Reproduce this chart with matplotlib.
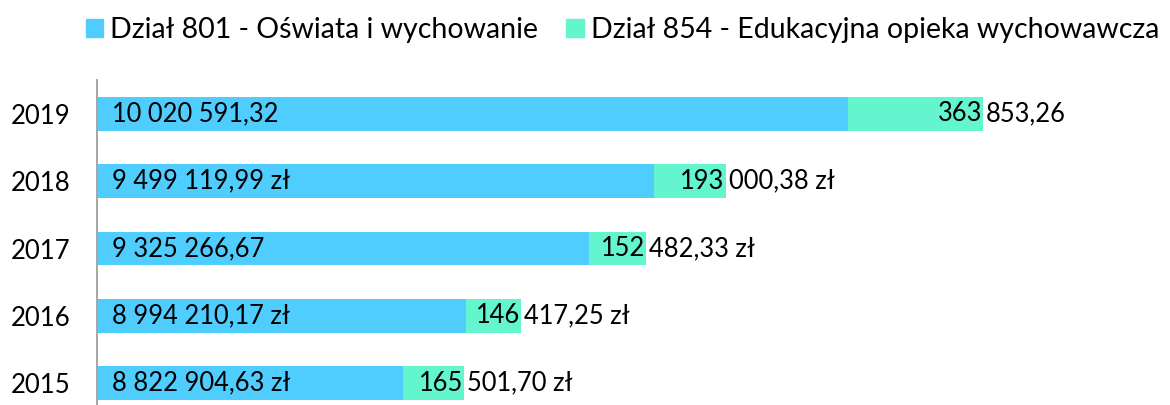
import matplotlib.pyplot as plt
from matplotlib.patches import Patch

plt.rcParams["font.family"] = ["Lato", "DejaVu Sans"]

years = ["2015", "2016", "2017", "2018", "2019"]
dzial_801 = [8822904.63, 8994210.17, 9325266.67, 9499119.99, 10020591.32]
dzial_854 = [165501.70, 146417.25, 152482.33, 193000.38, 363853.26]
# which labels carry the currency suffix in the original
suffix_801 = [" zł", " zł", "", " zł", ""]
suffix_854 = [" zł", " zł", " zł", " zł", ""]
series_names = ["Dział 801 - Oświata i wychowanie", "Dział 854 - Edukacyjna opieka wychowawcza"]

BLUE = "#50CDFF"
GREEN = "#62F5CE"
X_MIN, X_MAX = 8_000_000, 10_850_000
LABEL_SIZE = 18.4


def fmt_pl(v):
    return f"{v:,.2f}".replace(",", " ").replace(".", ",")


fig = plt.figure(figsize=(11.7, 4.05), dpi=100)
ax = fig.add_axes([0.0829, -0.0296, 0.905, 0.832])

ypos = range(len(years))
ax.barh(ypos, [v - X_MIN for v in dzial_801], left=X_MIN, height=0.5, color=BLUE)
ax.barh(ypos, dzial_854, left=dzial_801, height=0.5, color=GREEN)

ax.set_xlim(X_MIN, X_MAX)
ax.set_ylim(-0.5, len(years) - 0.5)
ax.set_yticks(list(ypos), years, fontsize=18.5)
ax.tick_params(axis="y", length=0, pad=19)
ax.set_xticks([])
for side in ["top", "right", "bottom"]:
    ax.spines[side].set_visible(False)
ax.spines["left"].set_color("#A6A6A6")
ax.spines["left"].set_linewidth(1.4)

px = (X_MAX - X_MIN) / (0.905 * 1170)  # data units per pixel
for i, (a, b) in enumerate(zip(dzial_801, dzial_854)):
    ax.text(X_MIN + 15 * px, i, fmt_pl(a) + suffix_801[i], ha="left", va="center", fontsize=LABEL_SIZE)
    head, tail = (fmt_pl(b) + suffix_854[i]).split(" ", 1)
    end = a + b
    ax.text(end - 1 * px, i, head, ha="right", va="center", fontsize=LABEL_SIZE)
    ax.text(end + 3 * px, i, tail, ha="left", va="center", fontsize=LABEL_SIZE)

handles = [Patch(color=BLUE), Patch(color=GREEN)]
fig.legend(handles, series_names, loc="center", bbox_to_anchor=(0.532, 0.925), ncol=2,
           frameon=False, fontsize=20.5, handlelength=0.6, handleheight=0.6,
           handletextpad=0.25, columnspacing=1.0)

fig.savefig("out.png", dpi=100)
